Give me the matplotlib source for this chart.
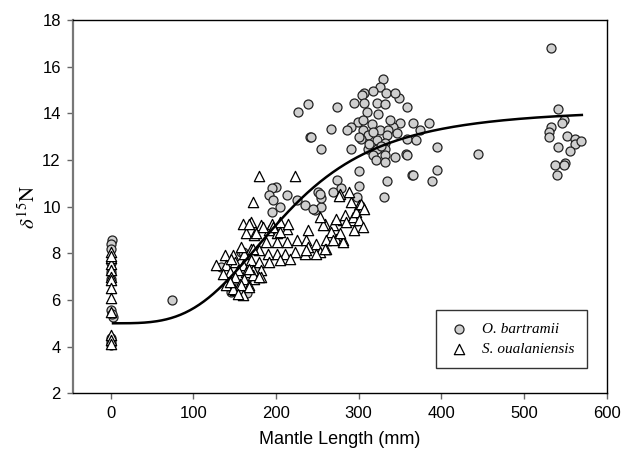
import numpy as np
import matplotlib
matplotlib.use('Agg')
import matplotlib.pyplot as plt
import matplotlib.ticker as ticker

plt.rcParams['font.family'] = ['Liberation Sans', 'DejaVu Sans']
plt.rcParams['mathtext.fontset'] = 'stix'

# O. bartramii (кружки)
ob_x = [2, 0, 1, 0, 0, 1, 1, 3, 2, 1, 0, 1,
        74,
        134, 158, 146, 148, 160, 165, 152, 175,
        200, 195, 192, 196, 195, 205, 213, 225, 235, 247, 255, 251, 255, 269, 279,
        301, 274, 301, 334, 331, 365, 395, 389, 245, 253,
        227, 239, 274, 241, 243, 255, 267, 395, 357, 344, 385, 374, 359, 349,
        329, 326, 307, 304, 317, 333, 344, 295, 307, 322, 332, 310, 324, 299, 305,
        316, 350, 366, 342, 291, 305, 326, 336, 311, 334, 346, 303, 322, 358, 370,
        332, 291, 311, 322, 332, 318, 332, 358, 321, 332, 366,
        313, 327, 318, 338, 300, 286,
        298, 445,
        533, 541, 548, 546, 533, 530, 530, 552, 562, 562, 569, 541, 556, 537, 550,
        549, 540]
ob_y = [8.55, 8.4, 8.2, 7.6, 7.2, 6.9, 5.55, 5.27, 5.4, 4.35, 4.2, 4.05,
        5.98,
        7.41, 8.06, 6.34, 6.41, 8.06, 6.3, 6.5, 7.3,
        10.85, 10.78, 10.49, 10.27, 9.77, 9.99, 10.49, 10.27, 10.06, 9.85, 9.99, 10.63, 10.35, 10.62, 10.78,
        10.88, 11.16, 11.52, 11.1, 10.42, 11.35, 11.56, 11.1, 9.92, 10.56,
        14.04, 14.38, 14.25, 12.99, 12.99, 12.45, 13.31, 12.54, 12.24, 12.13, 13.57, 13.28, 14.28, 14.64,
        15.45, 15.14, 14.85, 14.8, 14.97, 14.85, 14.88, 14.45, 14.43, 14.45, 14.4, 14.07, 13.97, 13.64, 13.71,
        13.54, 13.57, 13.57, 13.42, 13.42, 13.28, 13.28, 13.28, 13.06, 13.06, 13.14, 12.92, 12.85, 12.92, 12.85,
        12.73, 12.49, 12.49, 12.45, 12.45, 12.2, 12.2, 12.2, 11.99, 11.92, 11.35,
        12.7, 12.6, 13.2, 13.7, 13.0, 13.3,
        10.4, 12.25,
        16.8, 14.17, 13.71, 13.57, 13.42, 13.2, 12.99, 13.02, 12.92, 12.7, 12.8, 12.54, 12.38, 11.78, 11.88,
        11.8, 11.35]

# S. oualaniensis (треугольники)
so_x = [0, 1, 0, 0, 1, 0, 0, 0, 0, 0, 1, 0, 0,
        160, 170, 182, 205, 213, 192, 201, 164, 174, 239, 259, 269, 281, 293, 267,
        273, 261, 281, 225, 237, 213, 201, 188, 249, 239, 261, 253, 235, 223, 211,
        201, 190, 180, 170, 162, 148, 138, 128, 140, 150, 160, 170, 180, 192, 205,
        217, 182, 172, 164, 154, 144, 136, 150, 162, 174, 182, 146, 156, 168, 140,
        150, 158,
        146, 158, 172, 176, 184, 172, 195, 148, 158, 168, 144, 160, 154, 172, 180, 168,
        180, 223, 168, 197, 205, 215, 273, 283, 293, 301, 305, 291, 297, 301, 277,
        289, 257, 285, 269, 281, 259, 249, 237, 277, 295, 305,
        276, 303, 307, 253]
so_y = [8.06, 7.8, 7.55, 7.27, 7.0, 6.84, 6.5, 6.07, 5.48, 4.48, 4.27, 4.13, 7.9,
        9.27, 9.34, 9.2, 9.34, 9.06, 8.99, 8.85, 8.85, 8.77, 8.99, 9.27, 9.2, 9.42, 9.42, 8.91,
        8.63, 8.56, 8.56, 8.56, 8.56, 8.49, 8.49, 8.49, 8.42, 8.27, 8.2, 8.06, 7.99, 8.06, 7.99,
        7.99, 7.99, 8.13, 8.2, 7.99, 7.91, 7.91, 7.48, 7.48, 7.63, 7.48, 7.7, 7.63, 7.63, 7.7,
        7.77, 7.27, 7.27, 7.2, 7.27, 7.2, 7.13, 6.98, 6.91, 6.91, 6.98, 6.7, 6.7, 6.63, 6.63,
        6.41, 6.34,
        7.77, 8.27, 8.2, 8.85, 9.13, 10.2, 9.27, 6.48, 6.63, 6.56, 6.77, 6.2, 6.27, 7.06, 6.98, 7.34,
        11.3, 11.3, 9.27, 9.13, 8.92, 9.27, 9.49, 9.63, 9.56, 10.06, 9.99, 10.2, 9.77, 9.42, 10.56,
        10.63, 9.2, 9.34, 8.56, 8.49, 8.2, 7.99, 8.13, 8.85, 8.99, 9.13,
        10.45, 10.1, 9.92, 9.56]

# подогнанная кривая (Хилл)
y0, amp, K, n = 5.0, 9.2, 210.0, 3.5
xc = np.linspace(3, 570, 300)
yc = y0 + amp * xc**n / (K**n + xc**n)

fig = plt.figure(figsize=(6.24, 4.5), dpi=100)
ax = fig.add_axes([0.1175, 0.126, 0.8547, 0.8296])

ax.scatter(ob_x, ob_y, s=42, facecolor='#cfcfcf', edgecolor='#222222',
           linewidths=0.9, label='O. bartramii', zorder=2)
ax.scatter(so_x, so_y, s=55, marker='^', facecolor='white', edgecolor='black',
           linewidths=0.9, label='S. oualaniensis', zorder=3)
ax.plot(xc, yc, color='black', lw=1.8, zorder=4)

ax.set_xlim(-45, 600)
ax.set_ylim(2, 18)
ax.xaxis.set_major_locator(ticker.MultipleLocator(100))
ax.yaxis.set_major_locator(ticker.MultipleLocator(2))
ax.tick_params(direction='out', length=4, width=1, color='#666666',
               labelsize=12, pad=5)

for s in ['top', 'right', 'bottom']:
    ax.spines[s].set_color('black')
    ax.spines[s].set_linewidth(1.0)
ax.spines['left'].set_color('#777777')
ax.spines['left'].set_linewidth(1.6)

ax.set_xlabel('Mantle Length (mm)', fontsize=13, labelpad=7)
ax.set_ylabel(r'$\delta^{15}\mathrm{N}$', fontsize=15, labelpad=2)

leg = ax.legend(loc='lower right', bbox_to_anchor=(0.9625, 0.068),
                frameon=True, fancybox=False, borderpad=0.8, handletextpad=0.8,
                labelspacing=0.4, handlelength=1.4, borderaxespad=0,
                prop={'family': 'Liberation Serif', 'style': 'italic', 'size': 11})
leg.get_frame().set_edgecolor('black')
leg.get_frame().set_linewidth(1.0)

fig.savefig('out.png', dpi=100)
